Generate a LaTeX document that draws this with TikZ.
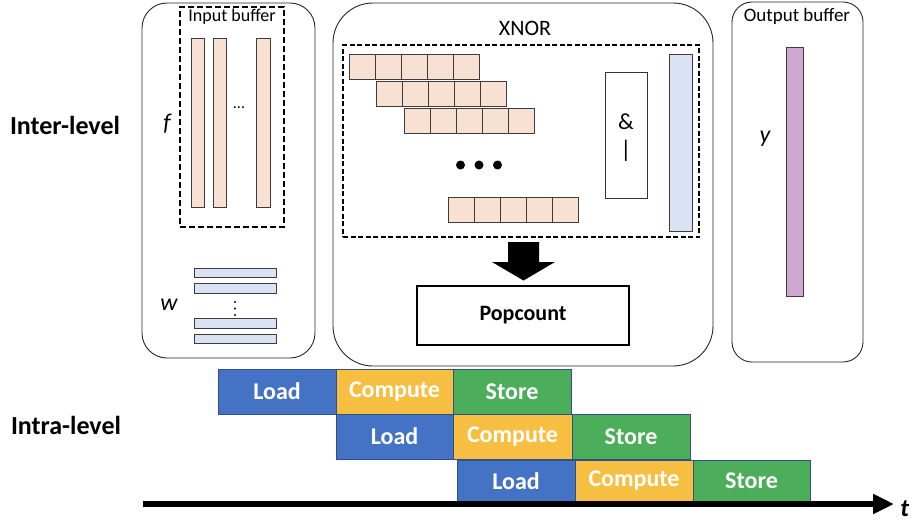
\documentclass[tikz,border=0pt]{standalone}
\usepackage{fontspec}
\setmainfont{Carlito}
\usetikzlibrary{arrows.meta}
\definecolor{peach}{RGB}{248,225,210}
\definecolor{lblue}{RGB}{218,227,243}
\definecolor{purp}{RGB}{207,168,207}
\definecolor{ldblue}{RGB}{68,114,196}
\definecolor{cyellow}{RGB}{246,191,65}
\definecolor{sgreen}{RGB}{76,173,91}
\definecolor{edgec}{RGB}{60,60,60}
\newcommand\fsz[1]{\fontsize{#1}{#1}\selectfont}
\begin{document}
\begin{tikzpicture}[x=1pt,y=-1pt,
  plain/.style={inner sep=0pt, outer sep=0pt},
  roundbox/.style={plain, draw=black!85, line width=0.9pt},
  bar/.style={plain, draw=edgec, line width=0.6pt},
  cellbox/.style={bar, fill=peach, minimum width=26pt, minimum height=25pt},
  wbar/.style={bar, fill=lblue, minimum width=82pt, minimum height=9.5pt},
  fbar/.style={bar, fill=peach, minimum height=169pt},
  stage/.style={plain, draw=ldblue!70!black, line width=0.4pt, text=white,
     font=\fsz{24}\bfseries, minimum height=45pt},
  loadb/.style={stage, fill=ldblue, minimum width=118pt},
  compb/.style={stage, fill=cyellow, minimum width=118pt},
  storeb/.style={stage, fill=sgreen, minimum width=118pt},
  lbl/.style={plain, font=\fsz{19}},
  var/.style={plain, font=\fsz{24}\itshape},
  dotn/.style={circle, fill=black, inner sep=0pt},
]
\useasboundingbox (0,0) rectangle (912,523);

% left panel
\node[roundbox, rounded corners=25pt, minimum width=173pt, minimum height=355pt] (lbox) at (228.5,180.5) {};
\node[plain, draw=black, line width=2pt, dash pattern=on 6pt off 3pt, minimum width=104pt, minimum height=220pt] (inbuf) at (232,117) {};
\node[lbl, font=\fsz{18}] (inbuftxt) at (232,17) {Input buffer};
\node[fbar, minimum width=13pt] (f1) at (197.5,122.5) {};
\node[fbar, minimum width=13pt] (f2) at (219.5,122.5) {};
\node[fbar, minimum width=14pt] (f3) at (263,122.5) {};
\node[plain, font=\fsz{16}] (fdots) at (239,108) {...};
\node[var] (ftxt) at (167,124) {f};
\node[wbar] (w1) at (235,273) {};
\node[wbar] (w2) at (235,288.5) {};
\node[wbar] (w3) at (235,323.5) {};
\node[wbar] (w4) at (235,339) {};
\node[dotn, minimum size=2.4pt] (vd1) at (235,302) {};
\node[dotn, minimum size=2.4pt] (vd2) at (235,308.5) {};
\node[dotn, minimum size=2.4pt] (vd3) at (235,315) {};
\node[var] (wtxt) at (169,305) {w};

% XNOR panel
\node[roundbox, rounded corners=40pt, minimum width=380pt, minimum height=363pt] (xbox) at (523,184.5) {};
\node[lbl, font=\fsz{22}] (xtxt) at (525,28) {XNOR};
\node[plain, draw=black, line width=1.4pt, dash pattern=on 5pt off 2.5pt, minimum width=356pt, minimum height=192pt] (xin) at (521,141) {};
\foreach \c in {0,...,4} {
  \node[cellbox] (ra\c) at (362+26*\c,66.5) {};
  \node[cellbox] (rb\c) at (389+26*\c,94) {};
  \node[cellbox] (rc\c) at (417+26*\c,120.5) {};
  \node[cellbox] (rd\c) at (461+26*\c,209.5) {};
}
\node[dotn, minimum size=9pt] (bd1) at (460.5,165) {};
\node[dotn, minimum size=9pt] (bd2) at (479,165) {};
\node[dotn, minimum size=9pt] (bd3) at (497.5,165) {};
\node[bar, draw=black!80, fill=white, minimum width=42pt, minimum height=126pt] (andbox) at (626,135) {};
\node[plain, font=\fsz{23}] (amp) at (626,122) {\&};
\node[plain, font=\fsz{24}] (pipe) at (626,151) {|};
\node[bar, fill=lblue, minimum width=23pt, minimum height=177pt] (xbar) at (680.5,142.5) {};
\node[plain, draw=black, line width=2pt, minimum width=212pt, minimum height=59pt, font=\fsz{22}\bfseries] (pop) at (523,315.5) {Popcount};
\fill[black] (508,242) -- (539,242) -- (539,262) -- (555,262) -- (523.5,280.5) -- (492,262) -- (508,262) -- cycle;

% Output panel
\node[roundbox, rounded corners=20pt, minimum width=131pt, minimum height=360pt] (obox) at (797.5,182) {};
\node[lbl, font=\fsz{19}] (otxt) at (797,16) {Output buffer};
\node[bar, fill=purp, minimum width=17pt, minimum height=249pt] (ybar) at (794.5,171.5) {};
\node[var] (ytxt) at (765,139) {y};

% level labels
\node[plain, anchor=west, font=\fsz{26}\bfseries] (inter) at (10,125) {Inter-level};
\node[plain, anchor=west, font=\fsz{26}\bfseries] (intra) at (11,425) {Intra-level};

% pipeline
\node[loadb] (l1) at (277,391.5) {Load};
\node[compb, minimum width=117pt] (c1) at (394.5,391.5) {Compute};
\node[storeb] (s1) at (512,391.5) {Store};
\node[loadb, minimum width=117pt] (l2) at (394.5,436.5) {Load};
\node[compb, minimum width=119pt] (c2) at (512.5,436.5) {Compute};
\node[storeb] (s2) at (631,436.5) {Store};
\node[loadb, minimum height=42pt] (l3) at (516,481) {Load};
\node[compb, minimum height=42pt] (c3) at (634,481) {Compute};
\node[storeb, minimum width=117pt, minimum height=42pt] (s3) at (751.5,481) {Store};

\coordinate (ta) at (143,504);
\coordinate (tb) at (894,504);
\draw[line width=6pt, -{Triangle[length=21pt,width=19pt]}] (ta) -- (tb);
\node[plain, anchor=east, font=\fsz{25}\bfseries\itshape] (ttxt) at (909,509) {t};
\end{tikzpicture}
\end{document}
